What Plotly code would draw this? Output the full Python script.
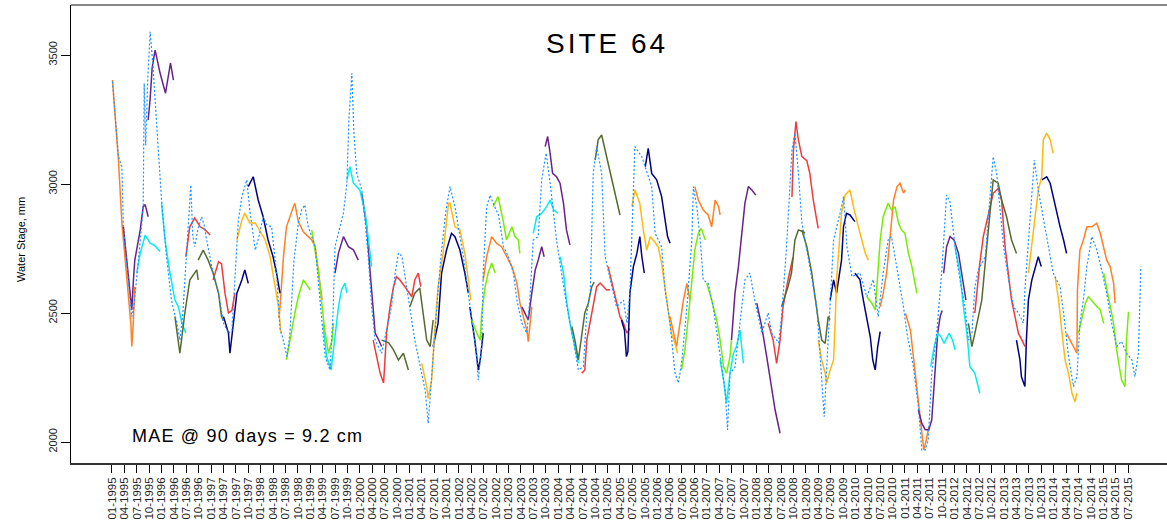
import plotly.graph_objects as go

# ---------------- observed water stage (decimal year, mm) ----------------
obs_t = [1995.01, 1995.08, 1995.13, 1995.20, 1995.23, 1995.33, 1995.40, 1995.44, 1995.50, 1995.57,
         1995.63, 1995.65, 1995.68, 1995.72, 1995.77, 1995.83, 1995.90, 1996.00, 1996.10, 1996.20,
         1996.31, 1996.37, 1996.43, 1996.51, 1996.55, 1996.59, 1996.63, 1996.67, 1996.74, 1996.81,
         1996.86, 1996.91, 1997.04, 1997.15, 1997.25, 1997.35, 1997.42, 1997.48, 1997.55, 1997.62,
         1997.72, 1997.78, 1997.89, 1997.97, 1998.05, 1998.13, 1998.22, 1998.32, 1998.39, 1998.45,
         1998.53, 1998.59, 1998.67, 1998.76, 1998.83, 1998.89, 1998.96, 1999.10, 1999.20, 1999.30,
         1999.40, 1999.46, 1999.50, 1999.58, 1999.67, 1999.74, 1999.78, 1999.84, 1999.88, 1999.94,
         2000.04, 2000.11, 2000.17, 2000.24, 2000.31, 2000.44, 2000.53, 2000.64, 2000.71, 2000.78,
         2000.85, 2000.98, 2001.11, 2001.22, 2001.32, 2001.38, 2001.45, 2001.52, 2001.58, 2001.65,
         2001.74, 2001.82, 2001.92, 2002.09, 2002.22, 2002.36, 2002.39, 2002.46, 2002.49, 2002.56,
         2002.63, 2002.69, 2002.80, 2002.90, 2003.00, 2003.10, 2003.17, 2003.27, 2003.37, 2003.43,
         2003.50, 2003.60, 2003.67, 2003.76, 2003.84, 2003.91, 2003.97, 2004.07, 2004.18, 2004.31,
         2004.41, 2004.51, 2004.58, 2004.65, 2004.68, 2004.71, 2004.78, 2004.88, 2004.95, 2005.05,
         2005.18, 2005.32, 2005.39, 2005.45, 2005.50, 2005.55, 2005.69, 2005.78, 2005.89, 2005.96,
         2006.09, 2006.16, 2006.26, 2006.36, 2006.43, 2006.50, 2006.60, 2006.70, 2006.73, 2006.80,
         2006.87, 2006.93, 2007.03, 2007.13, 2007.23, 2007.30, 2007.37, 2007.42, 2007.47, 2007.57,
         2007.67, 2007.77, 2007.87, 2007.97, 2008.11, 2008.24, 2008.31, 2008.45, 2008.51, 2008.61,
         2008.72, 2008.78, 2008.85, 2008.92, 2009.08, 2009.22, 2009.29, 2009.37, 2009.45, 2009.56,
         2009.69, 2009.76, 2009.83, 2009.93, 2010.09, 2010.23, 2010.36, 2010.46, 2010.56, 2010.66,
         2010.73, 2010.80, 2010.87, 2010.97, 2011.04, 2011.17, 2011.27, 2011.34, 2011.41, 2011.47,
         2011.54, 2011.64, 2011.74, 2011.84, 2011.91, 2012.01, 2012.11, 2012.21, 2012.28, 2012.35,
         2012.41, 2012.48, 2012.62, 2012.72, 2012.78, 2012.85, 2012.92, 2012.99, 2013.09, 2013.19,
         2013.29, 2013.39, 2013.42, 2013.49, 2013.56, 2013.61, 2013.69, 2013.79, 2013.89, 2013.99,
         2014.13, 2014.20, 2014.30, 2014.40, 2014.47, 2014.53, 2014.60, 2014.67, 2014.77, 2014.87,
         2014.97, 2015.07, 2015.17, 2015.27, 2015.37, 2015.47, 2015.58, 2015.64, 2015.71, 2015.76]
obs_v = [3397, 3222, 3106, 3067, 2834, 2628, 2486, 2520, 2655, 2780,
         2912, 3390, 3150, 3400, 3590, 3450, 3236, 2938, 2718, 2550,
         2461, 2395, 2500, 2757, 2870, 2996, 2800, 2757, 2830, 2873,
         2840, 2783, 2655, 2577, 2461, 2422, 2434, 2655, 2860, 2950,
         3016, 2900, 2744, 2800, 2873, 2840, 2834, 2655, 2440, 2400,
         2331, 2420, 2700, 2849, 2900, 2919, 2834, 2757, 2550, 2331,
         2279, 2500, 2757, 2820, 2887, 3004, 3250, 3429, 3200, 3041,
         2977, 2850, 2718, 2524, 2395, 2344, 2420, 2524, 2650, 2732,
         2720, 2550, 2395, 2292, 2200, 2072, 2267, 2450, 2589, 2744,
         2900, 2990, 2912, 2718, 2524, 2331, 2240, 2370, 2655, 2912,
         2957, 2925, 2880, 2757, 2718, 2655, 2550, 2461, 2422, 2550,
         2783, 2796, 3016, 3120, 3004, 2887, 2783, 2655, 2524, 2395,
         2279, 2292, 2500, 2577, 2849, 3041, 3145, 3041, 2718, 2628,
         2524, 2550, 2461, 2577, 2850, 3145, 3106, 3050, 2990, 2809,
         2757, 2589, 2461, 2267, 2229, 2318, 2524, 2783, 2990, 2912,
         2783, 2628, 2615, 2524, 2395, 2292, 2202, 2047, 2267, 2290,
         2461, 2628, 2655, 2550, 2422, 2500, 2422, 2384, 2486, 2757,
         3132, 3198, 3041, 2849, 2680, 2524, 2331, 2098, 2395, 2783,
         2887, 2951, 2757, 2641, 2655, 2563, 2630, 2486, 2655, 2783,
         2796, 2718, 2628, 2524, 2422, 2292, 2137, 1969, 1969, 2008,
         2267, 2422, 2655, 2957, 2930, 2757, 2628, 2524, 2395, 2420,
         2602, 2667, 2718, 2977, 3106, 3041, 2912, 2757, 2628, 2524,
         2500, 2461, 2589, 2783, 2977, 3093, 2977, 2873, 2757, 2655,
         2602, 2500, 2331, 2215, 2254, 2461, 2550, 2680, 2796, 2745,
         2667, 2577, 2461, 2370, 2390, 2344, 2318, 2253, 2344, 2680]

# ---------------- forecast runs, grouped by colour ----------------
orange_t = [[1995.01, 1995.08, 1995.13, 1995.20, 1995.26, 1995.33, 1995.38, 1995.40, 1995.43, 1995.46],
            [1998.37, 1998.39, 1998.46, 1998.52, 1998.66, 1998.69, 1998.76, 1998.86, 1998.96, 1999.03, 1999.10, 1999.17, 1999.24],
            [2002.49, 2002.56, 2002.66, 2002.76, 2002.86, 2002.96, 2003.07, 2003.17, 2003.23, 2003.30, 2003.37, 2003.40, 2003.47],
            [2006.26, 2006.33, 2006.39, 2006.46, 2006.53, 2006.60, 2006.66],
            [2006.76, 2006.83, 2006.93, 2007.03, 2007.10, 2007.17, 2007.24, 2007.27],
            [2010.50, 2010.56, 2010.63, 2010.70, 2010.77, 2010.84, 2010.90, 2010.97, 2011.01],
            [2011.01, 2011.11, 2011.17, 2011.24, 2011.31, 2011.38, 2011.43, 2011.48],
            [2014.26, 2014.33, 2014.40, 2014.47, 2014.48, 2014.53, 2014.60, 2014.67, 2014.77, 2014.87, 2014.94, 2015.01, 2015.07, 2015.14, 2015.21, 2015.24]]
orange_v = [[3403, 3222, 3093, 2849, 2718, 2589, 2461, 2370, 2461, 2602],
            [2480, 2524, 2718, 2834, 2912, 2925, 2854, 2815, 2796, 2783, 2757, 2655, 2550],
            [2628, 2718, 2796, 2770, 2757, 2718, 2680, 2616, 2540, 2486, 2434, 2389, 2524],
            [2486, 2422, 2370, 2460, 2550, 2615, 2550],
            [2990, 2938, 2899, 2880, 2834, 2938, 2912, 2880],
            [2524, 2576, 2654, 2783, 2938, 2990, 3003, 2965, 2977],
            [2499, 2434, 2331, 2202, 2072, 1969, 2008, 2059],
            [2421, 2395, 2370, 2344, 2589, 2744, 2783, 2834, 2834, 2848, 2809, 2757, 2705, 2680, 2615, 2538]]

purple_t = [[1995.23, 1995.30, 1995.36, 1995.40, 1995.43, 1995.46, 1995.57, 1995.63, 1995.67, 1995.73],
            [1995.73, 1995.77, 1995.81, 1995.87, 1995.97, 1996.08, 1996.18, 1996.24],
            [1999.50, 1999.57, 1999.67, 1999.77, 1999.87, 1999.97],
            [2000.04, 2000.14, 2000.21, 2000.27, 2000.31, 2000.37, 2000.44],
            [2003.27, 2003.33, 2003.40, 2003.47, 2003.54, 2003.60, 2003.67, 2003.72],
            [2003.74, 2003.79, 2003.84, 2003.89, 2003.97, 2004.04, 2004.11, 2004.17, 2004.24],
            [2007.50, 2007.57, 2007.64, 2007.70, 2007.77, 2007.84, 2007.91, 2007.99],
            [2008.01, 2008.11, 2008.21, 2008.31, 2008.38, 2008.48],
            [2011.27, 2011.34, 2011.41, 2011.48, 2011.54, 2011.61, 2011.66, 2011.71, 2011.75],
            [2011.78, 2011.84, 2011.91, 2011.99, 2012.08, 2012.15, 2012.23]]
purple_v = [[2834, 2700, 2560, 2512, 2620, 2705, 2822, 2912, 2920, 2873],
            [3248, 3330, 3450, 3519, 3430, 3352, 3469, 3403],
            [2655, 2732, 2796, 2757, 2745, 2705],
            [2964, 2834, 2655, 2524, 2422, 2400, 2370],
            [2524, 2500, 2473, 2577, 2667, 2705, 2757, 2718],
            [3145, 3184, 3120, 3041, 3028, 3003, 2925, 2822, 2764],
            [2395, 2576, 2680, 2796, 2925, 2990, 2977, 2957],
            [2538, 2447, 2331, 2202, 2124, 2034],
            [2124, 2072, 2047, 2047, 2085, 2266, 2421, 2486, 2510],
            [2654, 2757, 2796, 2783, 2731, 2654, 2550]]

cyan_t = [[1995.50, 1995.57, 1995.67, 1995.77, 1995.87, 1995.97],
          [1996.00, 1996.07, 1996.17, 1996.27, 1996.34, 1996.41, 1996.49],
          [1999.26, 1999.33, 1999.42, 1999.50, 1999.57, 1999.63, 1999.70, 1999.74],
          [1999.74, 1999.80, 1999.87, 2000.00, 2000.11, 2000.17, 2000.24],
          [2003.50, 2003.57, 2003.67, 2003.77, 2003.84, 2003.91, 2003.99],
          [2004.04, 2004.11, 2004.17, 2004.24, 2004.31, 2004.38, 2004.41],
          [2007.27, 2007.34, 2007.40, 2007.47, 2007.54, 2007.60, 2007.67, 2007.74],
          [2011.52, 2011.59, 2011.66, 2011.72, 2011.79, 2011.89, 2011.96, 2012.01],
          [2012.01, 2012.11, 2012.18, 2012.25, 2012.31, 2012.41, 2012.51]]
cyan_v = [[2655, 2732, 2802, 2771, 2760, 2738],
          [2925, 2783, 2655, 2550, 2524, 2461, 2422],
          [2461, 2331, 2279, 2422, 2524, 2589, 2616, 2577],
          [3016, 3067, 3004, 2977, 2887, 2783, 2680],
          [2809, 2873, 2887, 2912, 2938, 2900, 2887],
          [2718, 2655, 2550, 2461, 2395, 2331, 2305],
          [2318, 2240, 2150, 2267, 2344, 2370, 2434, 2305],
          [2292, 2370, 2421, 2410, 2382, 2421, 2395, 2357],
          [2757, 2654, 2524, 2421, 2292, 2266, 2189]]

red_t = [[1996.49, 1996.57, 1996.67, 1996.78, 1996.88, 1996.98],
         [1997.04, 1997.15, 1997.21, 1997.28, 1997.35, 1997.42, 1997.48],
         [2000.27, 2000.34, 2000.41, 2000.48, 2000.54, 2000.61, 2000.68, 2000.74, 2000.81, 2000.91, 2001.05, 2001.11, 2001.18, 2001.23],
         [2004.48, 2004.54, 2004.58, 2004.65, 2004.71, 2004.78, 2004.85, 2004.92, 2004.98, 2005.05],
         [2005.01, 2005.11, 2005.18, 2005.25, 2005.32, 2005.39, 2005.45],
         [2008.24, 2008.34, 2008.41, 2008.48, 2008.54, 2008.64, 2008.74],
         [2008.72, 2008.75, 2008.80, 2008.85, 2008.92, 2009.02, 2009.08, 2009.15, 2009.22, 2009.25],
         [2012.41, 2012.51, 2012.58, 2012.68, 2012.78, 2012.88, 2012.95, 2013.02, 2013.08, 2013.15, 2013.22, 2013.29, 2013.36, 2013.42]]
red_v = [[2718, 2834, 2868, 2834, 2822, 2802],
         [2628, 2699, 2690, 2577, 2500, 2510, 2577],
         [2395, 2331, 2267, 2229, 2422, 2524, 2602, 2641, 2628, 2602, 2563, 2628, 2655, 2602],
         [2267, 2279, 2395, 2473, 2538, 2602, 2616, 2602, 2589, 2590],
         [2680, 2602, 2550, 2486, 2461, 2422, 2440],
         [2460, 2395, 2305, 2395, 2524, 2628, 2715],
         [2950, 3132, 3242, 3171, 3106, 3090, 3041, 2938, 2860, 2828],
         [2500, 2693, 2796, 2886, 2964, 2983, 2938, 2757, 2654, 2550, 2486, 2421, 2395, 2370]]

olive_t = [[1996.27, 1996.37, 1996.47, 1996.57, 1996.71, 1996.74],
           [1996.74, 1996.84, 1996.94, 1997.04, 1997.15, 1997.21, 1997.25],
           [2000.44, 2000.58, 2000.68, 2000.78, 2000.88, 2000.98],
           [2001.01, 2001.11, 2001.21, 2001.35, 2001.42, 2001.48],
           [2004.28, 2004.34, 2004.41, 2004.48, 2004.54, 2004.61, 2004.68, 2004.73],
           [2004.75, 2004.81, 2004.88, 2004.95, 2005.05, 2005.15, 2005.25],
           [2008.51, 2008.58, 2008.64, 2008.71, 2008.78, 2008.85, 2008.95, 2008.98],
           [2008.92, 2009.02, 2009.12, 2009.19, 2009.25, 2009.32, 2009.39, 2009.45, 2009.49],
           [2012.28, 2012.35, 2012.41, 2012.45, 2012.55, 2012.65, 2012.72, 2012.78, 2012.88, 2012.95, 2013.05, 2013.15, 2013.25]]
olive_v = [[2486, 2344, 2500, 2628, 2667, 2628],
           [2705, 2744, 2705, 2655, 2577, 2486, 2470],
           [2395, 2385, 2357, 2318, 2344, 2279],
           [2524, 2577, 2597, 2395, 2370, 2473],
           [2447, 2395, 2318, 2422, 2500, 2538, 2602, 2620],
           [3093, 3171, 3190, 3132, 3041, 2964, 2880],
           [2524, 2563, 2602, 2655, 2783, 2822, 2815, 2809],
           [2822, 2757, 2654, 2550, 2473, 2395, 2382, 2486, 2473],
           [2460, 2370, 2421, 2460, 2550, 2757, 2912, 3016, 3003, 2938, 2873, 2783, 2731]]

navy_t = [[1997.25, 1997.35, 1997.38, 1997.45, 1997.52, 1997.62, 1997.68, 1997.75],
          [1997.75, 1997.85, 1997.95, 1998.05, 1998.15, 1998.25, 1998.32, 1998.39],
          [2001.48, 2001.58, 2001.65, 2001.75, 2001.85, 2001.92, 2002.02, 2002.12, 2002.19],
          [2002.22, 2002.32, 2002.39, 2002.43, 2002.49],
          [2005.28, 2005.34, 2005.38, 2005.41, 2005.45, 2005.52, 2005.59, 2005.65, 2005.69, 2005.74],
          [2005.76, 2005.82, 2005.89, 2005.99, 2006.09, 2006.16, 2006.21, 2006.26],
          [2009.49, 2009.56, 2009.62, 2009.69, 2009.72, 2009.76, 2009.82, 2009.89, 2009.99],
          [2009.99, 2010.09, 2010.16, 2010.23, 2010.30, 2010.35, 2010.40, 2010.45, 2010.50],
          [2013.25, 2013.32, 2013.35, 2013.42, 2013.45, 2013.49, 2013.56, 2013.62, 2013.69, 2013.75],
          [2013.76, 2013.86, 2013.93, 2013.99, 2014.06, 2014.13, 2014.20, 2014.26]]
navy_v = [[2486, 2422, 2344, 2461, 2577, 2628, 2667, 2615],
          [2990, 3028, 2938, 2873, 2783, 2718, 2655, 2577],
          [2370, 2461, 2655, 2744, 2809, 2796, 2744, 2655, 2577],
          [2524, 2395, 2279, 2318, 2422],
          [2473, 2434, 2331, 2350, 2577, 2680, 2730, 2796, 2720, 2655],
          [3067, 3138, 3041, 3016, 2951, 2860, 2796, 2770],
          [2550, 2628, 2577, 2655, 2705, 2834, 2886, 2880, 2854],
          [2654, 2630, 2550, 2473, 2408, 2318, 2279, 2370, 2428],
          [2395, 2318, 2253, 2215, 2395, 2550, 2628, 2667, 2718, 2680],
          [3016, 3028, 3003, 2951, 2899, 2834, 2783, 2731]]

gold_t = [[1997.52, 1997.62, 1997.68, 1997.78, 1997.89, 1997.99, 1998.09, 1998.19, 1998.29, 1998.36, 1998.41],
          [2001.25, 2001.35, 2001.38, 2001.45, 2001.50, 2001.58, 2001.68, 2001.79, 2001.82, 2001.92, 2002.02, 2002.12, 2002.19, 2002.24],
          [2005.49, 2005.55, 2005.65, 2005.72, 2005.79, 2005.86, 2005.92, 2006.02, 2006.09, 2006.16, 2006.23, 2006.29, 2006.36, 2006.41],
          [2009.25, 2009.32, 2009.39, 2009.42, 2009.49, 2009.56, 2009.59, 2009.62, 2009.72, 2009.79, 2009.89, 2009.96, 2010.06, 2010.13, 2010.20, 2010.26],
          [2013.49, 2013.56, 2013.62, 2013.69, 2013.76, 2013.79, 2013.86, 2013.93, 2013.99],
          [2014.03, 2014.10, 2014.17, 2014.23, 2014.30, 2014.37, 2014.43, 2014.47]]
gold_v = [[2783, 2860, 2887, 2849, 2849, 2815, 2783, 2718, 2602, 2524, 2422],
          [2305, 2215, 2169, 2240, 2395, 2602, 2731, 2925, 2925, 2834, 2822, 2731, 2628, 2550],
          [2912, 2977, 2925, 2822, 2744, 2796, 2783, 2757, 2693, 2589, 2499, 2421, 2382, 2344],
          [2395, 2318, 2266, 2227, 2279, 2318, 2460, 2628, 2887, 2957, 2977, 2912, 2834, 2783, 2731, 2705],
          [2654, 2770, 2848, 2977, 3028, 3171, 3197, 3171, 3119],
          [2641, 2550, 2421, 2318, 2266, 2189, 2156, 2189]]

green_t = [[1998.52, 1998.59, 1998.69, 1998.76, 1998.86, 1998.93, 1999.00],
           [1999.03, 1999.10, 1999.17, 1999.24, 1999.30, 1999.37, 1999.44, 1999.47],
           [2002.26, 2002.36, 2002.43, 2002.46, 2002.53, 2002.59, 2002.66, 2002.73],
           [2002.69, 2002.79, 2002.89, 2002.96, 2003.07, 2003.13, 2003.20, 2003.23],
           [2006.49, 2006.56, 2006.63, 2006.70, 2006.76, 2006.83, 2006.89, 2006.97],
           [2007.00, 2007.10, 2007.20, 2007.27, 2007.34, 2007.40, 2007.47, 2007.50],
           [2010.23, 2010.33, 2010.40, 2010.46, 2010.50, 2010.56, 2010.66, 2010.73, 2010.80, 2010.87, 2010.93, 2011.00, 2011.07, 2011.14, 2011.20, 2011.24],
           [2014.50, 2014.57, 2014.64, 2014.70, 2014.80, 2014.87, 2014.94, 2015.01],
           [2015.01, 2015.11, 2015.21, 2015.27, 2015.34, 2015.37, 2015.44, 2015.47, 2015.51]]
green_v = [[2318, 2395, 2500, 2563, 2628, 2610, 2589],
           [2822, 2732, 2655, 2524, 2422, 2344, 2395, 2461],
           [2473, 2422, 2395, 2500, 2602, 2655, 2694, 2655],
           [2912, 2951, 2860, 2783, 2834, 2796, 2783, 2731],
           [2279, 2357, 2486, 2615, 2744, 2809, 2828, 2783],
           [2615, 2550, 2473, 2395, 2292, 2266, 2331, 2395],
           [2563, 2538, 2512, 2655, 2783, 2873, 2925, 2899, 2912, 2848, 2822, 2809, 2731, 2680, 2615, 2576],
           [2421, 2486, 2538, 2563, 2538, 2525, 2512, 2460],
           [2654, 2550, 2460, 2357, 2266, 2240, 2215, 2395, 2505]]

# ---------------- axis ticks ----------------
tick_years = list(range(1995, 2016))
tick_months = ["01", "04", "07", "10"]
y_ticks = [2000, 2500, 3000, 3500]

# ---------------- styles ----------------
palette = {"orange": "#FF7F24", "purple": "#68228B", "cyan": "#00EEEE", "red": "#EE3B3B",
           "olive": "#556B2F", "navy": "#000080", "gold": "#FFB90F", "green": "#76EE00"}
runs = [("orange", orange_t, orange_v), ("purple", purple_t, purple_v), ("cyan", cyan_t, cyan_v),
        ("red", red_t, red_v), ("olive", olive_t, olive_v), ("navy", navy_t, navy_v),
        ("gold", gold_t, gold_v), ("green", green_t, green_v)]

fig = go.Figure()
for name, ts, vs in runs:
    xs, ys = [], []
    for t, v in zip(ts, vs):
        xs += list(t) + [None]
        ys += list(v) + [None]
    fig.add_trace(go.Scatter(x=xs, y=ys, mode="lines", connectgaps=False,
                             line=dict(color=palette[name], width=1.5), hoverinfo="skip"))

fig.add_trace(go.Scatter(x=obs_t, y=obs_v, mode="lines",
                         line=dict(color="#1E90FF", width=1.2, dash="2px,2px"), hoverinfo="skip"))

tick_vals, tick_text = [], []
for yi, yr in enumerate(tick_years):
    for mi, mo in enumerate(tick_months):
        if yr == 2015 and mi > 2:
            continue
        tick_vals.append(yr + 0.25 * mi)
        tick_text.append(f"{mo}-{yr}")

fig.update_layout(
    width=1167, height=525,
    margin=dict(l=71, r=0, t=5, b=62),
    paper_bgcolor="white", plot_bgcolor="white", showlegend=False,
    font=dict(family="Liberation Sans, Arial, sans-serif", color="#000"),
    xaxis=dict(range=[1994.173, 2016.287], tickmode="array", tickvals=tick_vals, ticktext=tick_text,
               tickangle=-90, ticks="outside", ticklen=8, tickcolor="#000", tickwidth=1,
               showgrid=False, zeroline=False, showline=True, linecolor="#333", linewidth=1.5,
               tickfont=dict(size=11.5, color="#222")),
    yaxis=dict(range=[1918.6, 3693.8], tickmode="array", tickvals=y_ticks,
               ticktext=[str(v) for v in y_ticks], tickangle=-90,
               ticks="outside", ticklen=9, tickcolor="#000", tickwidth=1,
               showgrid=False, zeroline=False, showline=True, linecolor="#000", linewidth=1,
               tickfont=dict(size=11, color="#222")),
    shapes=[dict(type="line", xref="paper", yref="paper", x0=0, x1=1, y0=1, y1=1,
                 line=dict(color="#888888", width=2))],
    annotations=[
        dict(text='<span style="letter-spacing:3px">SITE 64</span>', xref="paper", yref="paper",
             x=0.489, y=0.917, showarrow=False,
             font=dict(size=28, color="#000"), xanchor="center", yanchor="middle"),
        dict(text='<span style="letter-spacing:1.2px">MAE @ 90 days = 9.2 cm</span>', xref="paper",
             yref="paper", x=0.161, y=0.058,
             showarrow=False, font=dict(size=18, color="#000"), xanchor="center", yanchor="middle"),
        dict(text="Water Stage, mm", xref="paper", yref="paper", x=-0.0456, y=0.487, textangle=-90,
             showarrow=False, font=dict(size=11, color="#000"), xanchor="center", yanchor="middle"),
    ],
)

fig.write_html("out.html")
